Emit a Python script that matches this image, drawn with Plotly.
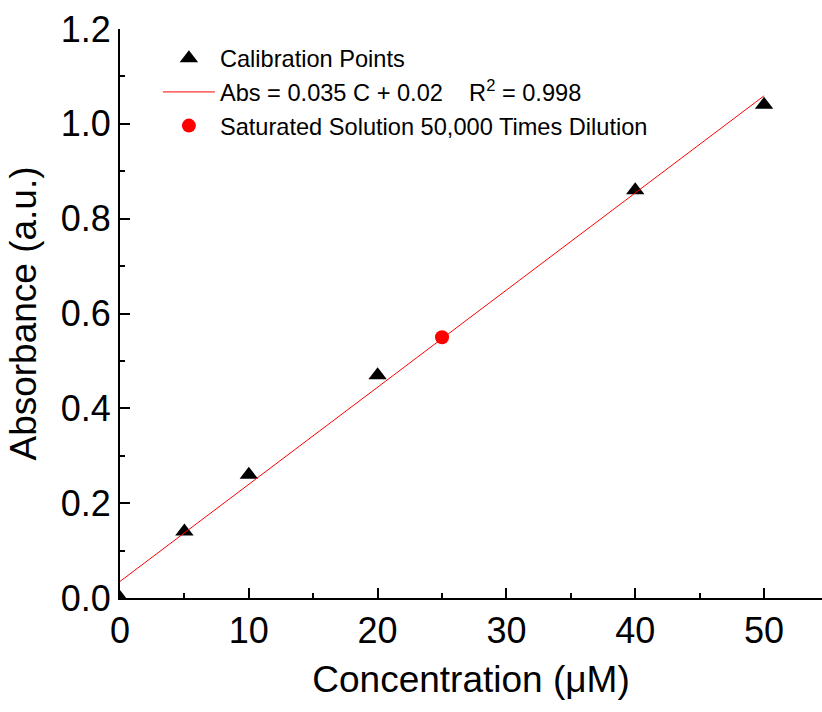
import numpy as np
import plotly.graph_objects as go

# Data
calib_conc = [0, 5, 10, 20, 40, 50]
calib_abs = [0.0, 0.14, 0.26, 0.47, 0.86, 1.04]
sample_conc = [25]
sample_abs = [0.55]
fit_range = [0, 50]

calib_name = "Calibration Points"
fit_name = "Abs = 0.035 C + 0.02\u00a0\u00a0\u00a0\u00a0R<sup>2</sup> = 0.998"
sample_name = "Saturated Solution 50,000 Times Dilution"

slope, intercept = np.polyfit(calib_conc, calib_abs, 1)
fit_x = np.array(fit_range, dtype=float)
fit_y = slope * fit_x + intercept

FONT = "Liberation Sans, Arial, sans-serif"

fig = go.Figure()
fig.add_trace(go.Scatter(
    x=calib_conc, y=calib_abs, mode="markers", name=calib_name,
    marker=dict(symbol="triangle-up", size=16, color="black"),
))
fig.add_trace(go.Scatter(
    x=fit_x, y=fit_y, mode="lines", name=fit_name,
    line=dict(color="red", width=1),
))
fig.add_trace(go.Scatter(
    x=sample_conc, y=sample_abs, mode="markers", name=sample_name,
    marker=dict(symbol="circle", size=14, color="red"),
))

axis_common = dict(
    showline=True, linecolor="black", linewidth=2,
    ticks="inside", ticklen=10, tickwidth=1.5, tickcolor="black",
    showgrid=False, zeroline=False, mirror=False,
    tickfont=dict(family=FONT, size=36, color="black"),
)

fig.update_layout(
    width=822, height=712,
    margin=dict(l=120, r=0, t=29, b=114),
    paper_bgcolor="white", plot_bgcolor="white",
    font=dict(family=FONT, color="black"),
    showlegend=True,
    legend=dict(
        x=0.054, y=0.987, xanchor="left", yanchor="top",
        bgcolor="rgba(0,0,0,0)", borderwidth=0,
        font=dict(family=FONT, size=23.6, color="black"),
        itemwidth=52, tracegroupgap=0,
    ),
    xaxis=dict(
        range=[0, 54.5], tickmode="linear", tick0=0, dtick=10,
        minor=dict(ticks="inside", ticklen=5, tickwidth=1.5, tickcolor="black", dtick=5, tick0=0),
        title=dict(text="Concentration (μM)", font=dict(family=FONT, size=37, color="black"), standoff=16),
        **axis_common,
    ),
    yaxis=dict(
        range=[0, 1.2], tickmode="linear", tick0=0, dtick=0.2, tickformat=".1f",
        minor=dict(ticks="inside", ticklen=5, tickwidth=1.5, tickcolor="black", dtick=0.1, tick0=0),
        title=dict(text="Absorbance (a.u.)", font=dict(family=FONT, size=37, color="black"), standoff=13),
        **axis_common,
    ),
)

fig.write_html("out.html")
